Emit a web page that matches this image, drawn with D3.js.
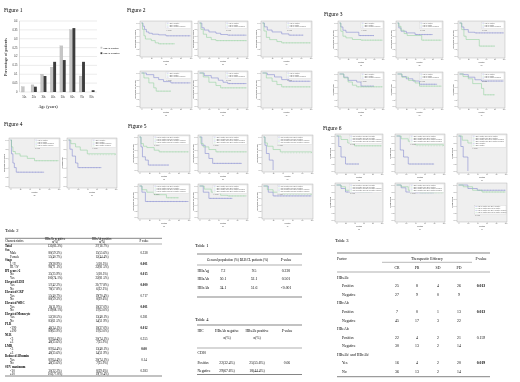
<!DOCTYPE html>
<html>
<head>
<meta charset="utf-8">
<title>HBsAb figures and tables</title>
<style>
  body { margin: 0; background: #fff; }
  svg { display: block; will-change: transform; }
</style>
</head>
<body>
<svg width="520" height="382"></svg>
<script src="https://d3js.org/d3.v7.min.js"></script>
<script>
// ---- Figure 1: age distribution
var ageGroups = ["10s", "20s", "30s", "40s", "50s", "60s", "70s", "80s"];
var hbsabPos = [0.03, 0.04, 0.10, 0.14, 0.26, 0.35, 0.09, 0];
var hbsabNeg = [0, 0.03, 0.09, 0.17, 0.18, 0.36, 0.17, 0.01];
var fig1Ticks = [0, 0.05, 0.1, 0.15, 0.2, 0.25, 0.3, 0.35, 0.4];

// ---- Kaplan-Meier curves, [month, survival]
var fig2Blue = [
  [[0,1],[3,0.9],[6,0.8],[10,0.72],[15,0.68],[22,0.65],[35,0.63],[50,0.6],[100,0.6]],
  [[0,1],[5,0.85],[10,0.78],[20,0.72],[35,0.68],[45,0.64],[60,0.62],[100,0.62]],
  [[0,1],[4,0.88],[10,0.78],[20,0.72],[40,0.66],[55,0.62],[85,0.62]],
  [[0,1],[10,0.95],[25,0.86],[35,0.8],[45,0.74],[60,0.7],[100,0.7]],
  [[0,1],[10,0.92],[25,0.85],[40,0.78],[50,0.72],[60,0.68],[100,0.68]],
  [[0,1],[10,0.95],[25,0.88],[40,0.8],[55,0.75],[100,0.75]]
];
var fig2Green = [
  [[0,1],[2,0.8],[5,0.6],[8,0.5],[20,0.45],[28,0.38],[35,0.35],[68,0.35]],
  [[0,1],[3,0.8],[8,0.65],[15,0.55],[25,0.48],[35,0.45],[100,0.45]],
  [[0,1],[3,0.75],[8,0.55],[15,0.48],[30,0.42],[40,0.38],[100,0.38]],
  [[0,1],[5,0.85],[15,0.7],[25,0.55],[30,0.45],[60,0.45]],
  [[0,1],[8,0.88],[20,0.72],[35,0.62],[45,0.55],[100,0.55]],
  [[0,1],[8,0.85],[20,0.75],[30,0.65],[40,0.58],[100,0.58]]
];
var fig3Blue = [
  [[0,1],[3,0.88],[8,0.78],[15,0.72],[40,0.72],[45,0.62],[80,0.62]],
  [[0,1],[3,0.85],[8,0.75],[20,0.7],[40,0.65],[80,0.65]],
  [[0,1],[5,0.88],[10,0.8],[20,0.72],[35,0.7],[100,0.7]],
  [[0,1],[10,0.9],[20,0.8],[40,0.75],[50,0.62],[80,0.62]],
  [[0,1],[10,0.92],[20,0.85],[35,0.78],[50,0.68],[90,0.68]],
  [[0,1],[10,0.98],[20,0.9],[35,0.82],[50,0.78],[100,0.78]]
];
var fig3Green = [
  [[0,1],[3,0.75],[8,0.6],[15,0.55],[30,0.5],[50,0.48],[100,0.48]],
  [[0,1],[3,0.9],[8,0.78],[15,0.68],[22,0.62],[45,0.62],[55,0.48],[100,0.48]],
  [[0,1],[5,0.8],[10,0.6],[15,0.5],[40,0.5],[45,0.3],[80,0.3]],
  [[0,1],[10,0.88],[20,0.75],[30,0.65],[40,0.6],[100,0.6]],
  [[0,1],[10,0.9],[25,0.8],[40,0.72],[50,0.62],[100,0.62]],
  [[0,1],[8,0.92],[20,0.85],[30,0.7],[50,0.55],[55,0.35],[80,0.35]]
];
var fig4Blue = [
  [[0,1],[2,0.7],[5,0.5],[8,0.4],[12,0.3],[70,0.3]],
  [[0,1],[3,0.8],[8,0.65],[15,0.5],[20,0.4],[70,0.4]]
];
var fig4Green = [
  [[0,1],[2,0.85],[5,0.75],[10,0.7],[20,0.65],[35,0.6],[50,0.55],[100,0.55]],
  [[0,1],[5,0.92],[15,0.85],[25,0.78],[40,0.7],[100,0.68]]
];
var fig5Blue = [
  [[0,1],[3,0.7],[6,0.4],[12,0.3],[18,0.15],[60,0.15]],
  [[0,1],[5,0.75],[12,0.5],[20,0.35],[28,0.2],[90,0.2]],
  [[0,1],[3,0.75],[6,0.5],[12,0.3],[20,0]],
  [[0,1],[5,0.8],[12,0.5],[100,0.5]],
  [[0,1],[8,0.8],[20,0.6],[70,0.6]],
  [[0,1],[10,0.8],[20,0.68],[100,0.68]]
];
var fig5Green = [
  [[0,1],[3,0.8],[8,0.72],[15,0.68],[30,0.6],[40,0.55],[100,0.55]],
  [[0,1],[3,0.8],[8,0.7],[20,0.62],[35,0.55],[100,0.55]],
  [[0,1],[3,0.82],[8,0.72],[20,0.62],[35,0.55],[100,0.52]],
  [[0,1],[5,0.88],[15,0.8],[30,0.72],[55,0.62],[80,0.62]],
  [[0,1],[10,0.9],[25,0.8],[45,0.7],[60,0.68],[100,0.68]],
  [[0,1],[8,0.88],[20,0.8],[40,0.75],[100,0.72]]
];
var fig6Blue = [
  [[0,1],[5,0.7],[10,0.4],[20,0.2],[50,0.2]],
  [[0,1],[8,0.6],[15,0.4],[25,0.2],[80,0.2]],
  [[0,1],[5,0.7],[10,0.4],[20,0]],
  [[0,1],[10,0.9],[20,0.8],[80,0.8]],
  [[0,1],[10,0.92],[20,0.8],[40,0.78],[80,0.78]],
  [[0,1],[20,0.9],[40,0.85],[100,0.85]]
];
var fig6Green = [
  [[0,1],[10,0.9],[25,0.8],[40,0.72],[100,0.72]],
  [[0,1],[10,0.92],[25,0.85],[40,0.75],[100,0.72]],
  [[0,1],[8,0.88],[20,0.8],[40,0.7],[100,0.7]],
  [[0,1],[10,0.95],[20,0.85],[50,0.8],[75,0.8]],
  [[0,1],[10,0.95],[25,0.85],[50,0.78],[100,0.78]],
  [[0,1],[10,0.95],[30,0.85],[50,0.8],[100,0.8]]
];
var panelLetters = ["(a)", "(b)", "(c)", "(d)", "(e)", "(f)"];
var kmYTicks = [0, 0.2, 0.4, 0.6, 0.8, 1.0];
var kmXTicks = [0, 20, 40, 60, 80, 100];
var legendShort = ["HBsAb negative", "HBsAb positive", "HBsAb negative-censored", "HBsAb positive-censored"];
var legendLong = ["HBsAb positive and HBcAb negative", "HBsAb negative and HBcAb positive",
  "HBsAb positive and HBcAb negative-censored", "HBsAb negative and HBcAb positive-censored"];

// ---- Table 2
var t2Char = ["Total", "Sex", "Male", "Female", "Stage", "I / II", "III / IV", "IPI score>2", "No", "Yes",
  "Elevated LDH", "Yes", "No", "Elevated CRP", "Yes", "No", "Elevated WBC", "Yes", "No",
  "Elevated Monocyte", "Yes", "No", "PLR", "<190", "\u2265190", "NLR", "<3", "\u22653", "LMR", "<3", "\u22653",
  "Reduced Albumin", "Yes", "No", "SUV maximum", "<10", "\u226510"];
var t2Sub = [0,0,1,1,0,1,1,0,1,1,0,1,1,0,1,1,0,1,1,0,1,1,0,1,1,0,1,1,0,1,1,0,1,1,0,1,1];
var t2Neg = ["135(83.3%)", "", "80(59.3%)", "55(40.7%)", "", "39(28.9%)", "96(71.1%)", "", "35(25.9%)", "100(74.1%)",
  "", "57(42.2%)", "78(57.8%)", "", "55(40.7%)", "80(59.3%)", "", "16(11.9%)", "119(88.1%)",
  "", "52(38.5%)", "83(61.5%)", "", "46(34.1%)", "89(65.9%)", "", "87(64.4%)", "48(35.6%)", "", "87(64.4%)", "48(35.6%)",
  "", "87(64.4%)", "48(35.6%)", "", "30(22.2%)", "105(77.8%)"];
var t2Pos = ["27(16.7%)", "", "15(55.6%)", "12(44.4%)", "", "5(18.5%)", "22(81.5%)", "", "5(18.5%)", "22(81.5%)",
  "", "21(77.8%)", "6(22.2%)", "", "19(70.4%)", "8(29.6%)", "", "10(37.0%)", "17(63.0%)",
  "", "13(48.1%)", "14(51.9%)", "", "10(37.0%)", "17(63.0%)", "", "20(74.1%)", "7(25.9%)", "", "13(48.1%)", "14(51.9%)",
  "", "20(74.1%)", "7(25.9%)", "", "8(29.6%)", "19(70.4%)"];
var t2P = ["", "", "0.338", "", "", "0.001", "", "", "0.015", "", "", "0.000", "", "", "0.717", "", "", "0.001", "",
  "", "0.381", "", "", "0.012", "", "", "0.355", "", "", "0.00", "", "", "0.14", "", "", "0.383", ""];

// ---- Table 1
var t1Head = ["", "General population (%)", "DLBCL patients (%)", "P value"];
var t1Marker = ["HBsAg", "HBsAb", "HBcAb"];
var t1General = ["7.2", "50.1", "34.1"];
var t1Dlbcl = ["9.5", "52.1", "51.6"];
var t1P = ["0.220", "0.501", "<0.001"];

// ---- Table 4
var t4Rows = ["CD20", "Positive", "Negative"];
var t4Neg = ["", "22(32.4%)", "29(67.6%)"];
var t4Pos = ["", "25(55.6%)", "18(44.4%)"];
var t4P = ["", "0.06", ""];

// ---- Table 3
var t3Factor = ["HBsAb", "Positive", "Negative", "HBcAb", "Positive", "Negative", "HBeAb", "Positive", "Negative",
  "HBsAb\u207A and HBcAb\u207A", "Yes", "No"];
var t3CR = ["", "25", "27", "", "7", "45", "", "22", "30", "", "16", "36"];
var t3PR = ["", "8", "9", "", "0", "17", "", "4", "13", "", "4", "13"];
var t3SD = ["", "4", "0", "", "1", "3", "", "2", "2", "", "2", "2"];
var t3PD = ["", "26", "9", "", "13", "22", "", "21", "14", "", "20", "14"];
var t3P = ["", "0.013", "", "", "0.013", "", "", "0.159", "", "", "0.019", ""];

var svg = d3.select("svg");
var serif = "'Liberation Serif', 'Times New Roman', serif";
var sans = "'Liberation Sans', Arial, sans-serif";
var blue = "#7f84cf", green = "#8fd19a";

function label(x, y, t, size, anchor, fam) {
  return svg.append("text").attr("x", x).attr("y", y)
    .attr("font-family", fam || serif).attr("font-size", size)
    .attr("text-anchor", anchor || "start").attr("fill", "#000").text(t);
}
function rule(x1, x2, y, w) {
  svg.append("line").attr("x1", x1).attr("x2", x2).attr("y1", y).attr("y2", y)
    .attr("stroke", "#333").attr("stroke-width", w || 0.5);
}

// ================= Figure 1
label(4, 12, "Figure 1", 5.5);
var x1 = d3.scaleBand().domain(ageGroups).range([19.5, 96.5]).paddingInner(0.4).paddingOuter(0.2);
var y1 = d3.scaleLinear().domain([0, 0.4]).range([92, 21]);
var f1 = svg.append("g");
f1.selectAll(".grid").data(fig1Ticks).enter().append("line")
  .attr("x1", 19.5).attr("x2", 97).attr("y1", y1).attr("y2", y1)
  .attr("stroke", "#c8c8c8").attr("stroke-width", 0.35);
f1.append("line").attr("x1", 19.5).attr("x2", 19.5).attr("y1", 21).attr("y2", 92)
  .attr("stroke", "#999").attr("stroke-width", 0.35);
f1.selectAll(".yl").data(fig1Ticks).enter().append("text")
  .attr("x", 17.5).attr("y", function (d) { return y1(d) + 0.9; })
  .attr("text-anchor", "end").attr("font-family", sans).attr("font-size", 2.6).attr("fill", "#333")
  .text(function (d) { return d; });
var bw = x1.bandwidth() / 2;
f1.selectAll(".bp").data(hbsabPos).enter().append("rect")
  .attr("x", function (d, i) { return x1(ageGroups[i]); })
  .attr("y", function (d) { return y1(d); })
  .attr("width", bw).attr("height", function (d) { return 92 - y1(d); })
  .attr("fill", "#c6c6c6").attr("stroke", "#999").attr("stroke-width", 0.2);
f1.selectAll(".bn").data(hbsabNeg).enter().append("rect")
  .attr("x", function (d, i) { return x1(ageGroups[i]) + bw; })
  .attr("y", function (d) { return y1(d); })
  .attr("width", bw).attr("height", function (d) { return 92 - y1(d); })
  .attr("fill", "#3c3c3c");
f1.selectAll(".xl").data(ageGroups).enter().append("text")
  .attr("x", function (d) { return x1(d) + x1.bandwidth() / 2; }).attr("y", 98)
  .attr("text-anchor", "middle").attr("font-family", sans).attr("font-size", 2.6).attr("fill", "#333")
  .text(function (d) { return d; });
label(48, 108, "Age (years)", 4.1, "middle");
label(0, 0, "Percentage  of patients", 4.3, "middle")
  .attr("transform", "translate(7,57) rotate(-90)");
f1.append("rect").attr("x", 100.5).attr("y", 46.8).attr("width", 1.8).attr("height", 1.8).attr("fill", "#c6c6c6");
f1.append("rect").attr("x", 100.5).attr("y", 52.3).attr("width", 1.8).attr("height", 1.8).attr("fill", "#3c3c3c");
label(103, 48.6, "HbsAb positive", 2.4, "start", sans);
label(103, 54.1, "HbsAb negative", 2.4, "start", sans);

// ================= KM panels
var line = d3.line().curve(d3.curveStepAfter);

function km(box, curves, o) {
  var g = svg.append("g");
  var w = box[2] - box[0], h = box[3] - box[1];
  var x = d3.scaleLinear().domain([0, 100]).range([box[0] + 1.5, box[2] - 1.5]);
  var y = d3.scaleLinear().domain([0, 1]).range([box[3] - 2, box[1] + 2]);
  g.append("rect").attr("x", box[0]).attr("y", box[1]).attr("width", w).attr("height", h)
    .attr("fill", "#efefef").attr("stroke", "#9a9a9a").attr("stroke-width", 0.35);
  var ya = g.append("g").attr("transform", "translate(" + box[0] + ",0)")
    .call(d3.axisLeft(y).tickValues(kmYTicks).tickSize(0.8).tickPadding(0.6).tickFormat(d3.format(".1f")));
  var xa = g.append("g").attr("transform", "translate(0," + box[3] + ")")
    .call(d3.axisBottom(x).tickValues(kmXTicks).tickSize(0.8).tickPadding(0.4));
  [ya, xa].forEach(function (a) {
    a.attr("font-size", 1.5).attr("font-family", sans);
    a.select(".domain").remove();
    a.selectAll("line").attr("stroke", "#777").attr("stroke-width", 0.3);
    a.selectAll("text").attr("fill", "#555");
  });
  g.append("text").attr("x", (box[0] + box[2]) / 2).attr("y", box[3] + 4.6)
    .attr("text-anchor", "middle").attr("font-family", sans).attr("font-size", 1.8).attr("fill", "#444").text("Months");
  g.append("text").attr("x", (box[0] + box[2]) / 2).attr("y", box[3] + 7.8)
    .attr("text-anchor", "middle").attr("font-family", sans).attr("font-size", 1.8).attr("fill", "#444").text(o.letter);
  g.append("text").attr("transform", "translate(" + (box[0] - 3.6) + "," + ((box[1] + box[3]) / 2) + ") rotate(-90)")
    .attr("text-anchor", "middle").attr("font-family", sans).attr("font-size", 1.6).attr("fill", "#444").text(o.ytitle);
  curves.forEach(function (c) {
    g.append("path").attr("d", line(c.pts.map(function (p) { return [x(p[0]), y(p[1])]; })))
      .attr("fill", "none").attr("stroke", c.color).attr("stroke-width", 0.55);
    // censor ticks on the flat tail
    var n = c.pts.length, a = c.pts[n - 2], b = c.pts[n - 1];
    if (b[0] - a[0] > 10) {
      d3.range(a[0] + 4, b[0], 6).forEach(function (t) {
        g.append("line").attr("x1", x(t)).attr("x2", x(t)).attr("y1", y(b[1]) - 0.6).attr("y2", y(b[1]) + 0.6)
          .attr("stroke", c.color).attr("stroke-width", 0.3);
      });
    }
  });
  // legend box
  var lx = box[0] + o.lx * w, lw = box[2] - 1 - lx, lh = o.items.length * 1.9 + 1;
  var ly = o.bottom ? box[3] - lh - 8 : box[1] + 1;
  g.append("rect").attr("x", lx).attr("y", ly).attr("width", lw).attr("height", lh)
    .attr("fill", "#fff").attr("stroke", "#bbb").attr("stroke-width", 0.25);
  o.items.forEach(function (t, i) {
    var yy = ly + 1.6 + i * 1.9;
    g.append("line").attr("x1", lx + 0.8).attr("x2", lx + 2.6).attr("y1", yy - 0.4).attr("y2", yy - 0.4)
      .attr("stroke", i % 2 ? green : blue).attr("stroke-width", 0.4);
    g.append("text").attr("x", lx + 3.2).attr("y", yy).attr("font-family", sans)
      .attr("font-size", 1.4).attr("fill", "#666").text(t);
  });
  g.append("text").attr("x", lx + 0.5).attr("y", ly + lh + 1.8).attr("font-family", sans)
    .attr("font-size", 1.4).attr("fill", "#666").text("p=0.000");
}

function figure(cols, rows, blues, greens, opts) {
  var k = 0;
  rows.forEach(function (r) {
    cols.forEach(function (c) {
      if (k >= blues.length) return;
      var o = opts(k);
      o.letter = panelLetters[k];
      km([c[0], r[0], c[1], r[1]], [{ pts: blues[k], color: blue }, { pts: greens[k], color: green }], o);
      k++;
    });
  });
}

label(127, 12, "Figure 2", 5.5);
figure([[140, 192], [198, 248], [261, 312]], [[21, 57], [71, 108]], fig2Blue, fig2Green, function (k) {
  return { lx: k % 3 === 1 ? 0.55 : 0.5, items: legendShort.slice(0, 3), ytitle: "Progression-free survival" };
});

label(324, 16, "Figure 3", 5.5);
figure([[338, 384], [396, 443], [458, 505]], [[21, 58], [72, 108]], fig3Blue, fig3Green, function (k) {
  return { lx: 0.5, items: legendShort.slice(0, 3), ytitle: k < 3 ? "Progression-free survival" : "Overall survival" };
});

label(4, 126, "Figure 4", 5.5);
figure([[9, 60], [67, 117]], [[138, 188]], fig4Blue, fig4Green, function (k) {
  return { lx: 0.5, items: legendShort, ytitle: k ? "Overall survival" : "Progression-free survival" };
});

label(128, 128, "Figure 5", 5.5);
figure([[138, 190], [198, 248], [262, 313]], [[135, 172], [184, 219]], fig5Blue, fig5Green, function (k) {
  return { lx: 0.3, items: legendLong, ytitle: "Progression-free survival" };
});

label(323, 130, "Figure 6", 5.5);
figure([[335, 383], [395, 445], [457, 507]], [[134, 173], [183, 222]], fig6Blue, fig6Green, function (k) {
  return { lx: k === 5 ? 0.35 : 0.3, items: k === 2 ? legendLong.concat(legendShort.slice(0, 2)) : legendLong,
    ytitle: "Overall survival", bottom: k === 5 };
});

// ================= Table 2
label(5, 232, "Table 2", 4.6);
rule(5, 162, 238.3, 0.6);
label(5, 241.5, "Characteristics", 3.1);
label(55, 240.2, "HBsAb negative", 3.1, "middle");
label(55, 243, "n(%)", 3.1, "middle");
label(102, 240.2, "HBsAb positive", 3.1, "middle");
label(102, 243, "n(%)", 3.1, "middle");
label(144, 241.5, "P value", 3.1, "middle");
rule(5, 162, 244, 0.4);
t2Char.forEach(function (c, i) {
  var yy = 247 + i * 3.56;
  label(t2Sub[i] ? 10 : 5, yy, c, 3.1).attr("font-weight", t2Sub[i] ? "normal" : "bold");
  label(55, yy, t2Neg[i], 3.1, "middle");
  label(102, yy, t2Pos[i], 3.1, "middle");
  if (t2P[i]) label(144, yy, t2P[i], 3.1, "middle").attr("font-weight", +t2P[i] < 0.05 ? "bold" : "normal");
});
rule(5, 162, 376, 0.6);

// ================= Table 1
label(195, 247, "Table 1", 4.6);
rule(197, 302, 254, 0.6);
label(223, 261, t1Head[1], 3.4, "middle");
label(254, 261, t1Head[2], 3.4, "middle");
label(286, 261, t1Head[3], 3.6, "middle");
rule(197, 302, 265, 0.4);
t1Marker.forEach(function (m, i) {
  var yy = 272 + i * 8.3;
  label(197.5, yy, m, 3.8);
  label(223, yy, t1General[i], 3.8, "middle");
  label(254, yy, t1Dlbcl[i], 3.8, "middle");
  label(286, yy, t1P[i], 3.8, "middle");
});
rule(197, 302, 297, 0.6);

// ================= Table 4
label(195, 321, "Table 4", 4.6);
rule(197, 302, 325, 0.6);
label(197.5, 331.5, "IHC", 3.6);
label(227, 331.5, "HBsAb negative", 3.6, "middle");
label(227, 339, "n(%)", 3.6, "middle");
label(257, 331.5, "HBsAb positive", 3.6, "middle");
label(257, 339, "n(%)", 3.6, "middle");
label(287, 331.5, "P value", 3.6, "middle");
rule(197, 302, 348, 0.4);
var t4Y = [353.5, 363.5, 371.5];
t4Rows.forEach(function (r, i) {
  label(197.5, t4Y[i], r, 3.6);
  label(227, t4Y[i], t4Neg[i], 3.6, "middle");
  label(257, t4Y[i], t4Pos[i], 3.6, "middle");
  label(287, t4Y[i], t4P[i], 3.6, "middle");
});
rule(197, 302, 374.5, 0.6);

// ================= Table 3
label(335, 242, "Table 3", 4.6);
rule(337, 490, 253, 0.6);
label(337, 259.5, "Factor", 3.8);
label(427, 259.5, "Therapeutic Efficacy", 3.8, "middle");
label(481, 259.5, "P value", 3.8, "middle");
rule(382, 472, 262.3, 0.35);
[["CR", 397], ["PR", 417], ["SD", 438], ["PD", 459]].forEach(function (h) {
  label(h[1], 268.5, h[0], 3.8, "middle");
});
rule(337, 490, 272, 0.4);
t3Factor.forEach(function (f, i) {
  var yy = 278.6 + i * 8.58;
  var sub = i % 3 !== 0;
  label(sub ? 342 : 337, yy, f, 3.8);
  label(397, yy, t3CR[i], 3.8, "middle");
  label(417, yy, t3PR[i], 3.8, "middle");
  label(438, yy, t3SD[i], 3.8, "middle");
  label(459, yy, t3PD[i], 3.8, "middle");
  if (t3P[i]) label(481, yy, t3P[i], 3.8, "middle").attr("font-weight", +t3P[i] < 0.05 ? "bold" : "normal");
});
rule(337, 490, 376.7, 0.6);
</script>
</body>
</html>
